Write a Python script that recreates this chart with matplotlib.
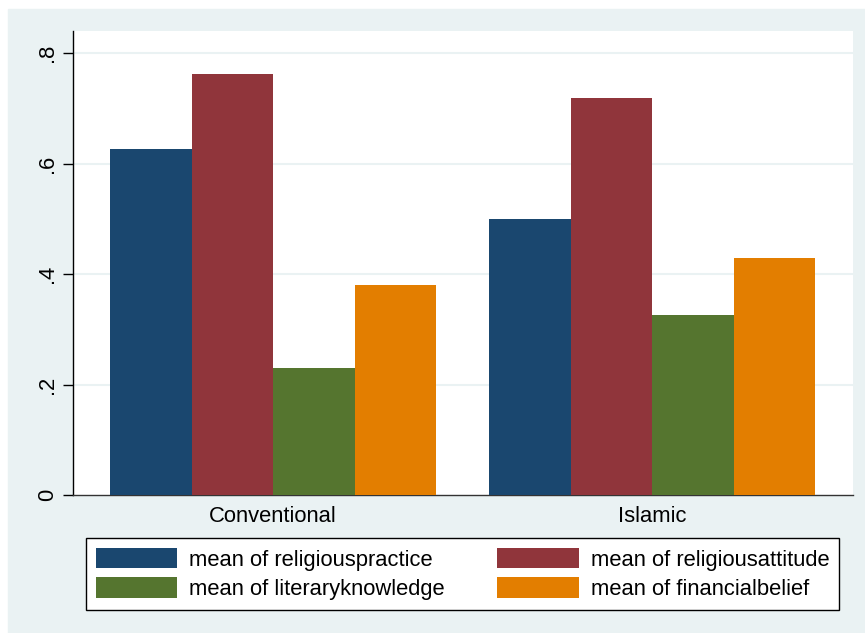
import matplotlib.pyplot as plt
from matplotlib.patches import Patch, Rectangle
import numpy as np

groups = ["Conventional", "Islamic"]
series = ["mean of religiouspractice", "mean of religiousattitude",
          "mean of literaryknowledge", "mean of financialbelief"]
religiouspractice = [0.626, 0.500]
religiousattitude = [0.762, 0.719]
literaryknowledge = [0.230, 0.326]
financialbelief = [0.380, 0.429]
yticks = [0, 0.2, 0.4, 0.6, 0.8]
ytick_labels = ["0", ".2", ".4", ".6", ".8"]

colors = ["#1A476F", "#90353B", "#55752F", "#E37E00"]
bg = "#EAF2F3"

plt.rcParams['font.family'] = ['Liberation Sans', 'DejaVu Sans']
fs = 15.8

fig = plt.figure(figsize=(8.65, 6.33), dpi=100)
W, H = 865, 633
# stata-like light graph region
fig.patches.append(Rectangle((8 / W, 0), (W - 8) / W, (H - 9) / H,
                             transform=fig.transFigure, color=bg, zorder=-5))

ax = fig.add_axes([73 / W, (H - 495) / H, 780 / W, 464 / H])
ax.set_facecolor("white")

vals = [religiouspractice, religiousattitude, literaryknowledge, financialbelief]
centers = np.array([0, 4.65])
offsets = [-1.5, -0.5, 0.5, 1.5]
for i, v in enumerate(vals):
    ax.bar(centers + offsets[i], v, width=1.0, color=colors[i], zorder=3)

ax.set_xlim(-2.454, 4.65 + 2.466)
ax.set_ylim(0, 0.84)

ax.set_yticks(yticks)
ax.set_yticklabels(ytick_labels, rotation=90, va="center", fontsize=fs)
for y in yticks[1:]:
    ax.axhline(y, color=bg, lw=1.5, zorder=1)

ax.set_xticks(centers)
ax.set_xticklabels(groups, fontsize=fs)
ax.tick_params(axis="x", length=0, pad=8)
ax.tick_params(axis="y", length=7, width=1, pad=4)

for s in ["top", "right"]:
    ax.spines[s].set_visible(False)
ax.spines["left"].set_color("black")
ax.spines["left"].set_linewidth(1)
ax.spines["bottom"].set_color("#333333")
ax.spines["bottom"].set_linewidth(1)

handles = [Patch(facecolor=c, edgecolor="none") for c in colors]
# stata fills legend row-wise; matplotlib fills column-wise
order = [0, 2, 1, 3]
leg = fig.legend([handles[k] for k in order], [series[k] for k in order],
                 ncol=2, loc="center", bbox_to_anchor=(462.5 / W, 1 - 574 / H),
                 fontsize=fs, frameon=True, fancybox=False, framealpha=1,
                 handlelength=3.7, handleheight=1.05, handletextpad=0.55,
                 columnspacing=2.4, borderpad=0.45, labelspacing=0.3,
                 borderaxespad=0)
leg.get_frame().set_edgecolor("black")
leg.get_frame().set_linewidth(1)
leg.get_frame().set_facecolor("white")

fig.savefig("out.png", dpi=100)
